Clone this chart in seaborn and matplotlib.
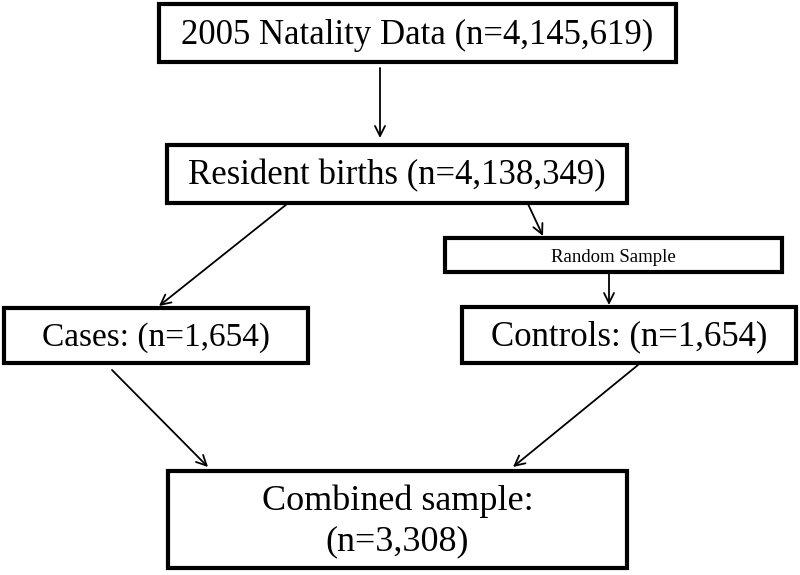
import matplotlib.pyplot as plt
import matplotlib.patches as mpatches
import seaborn as sns

# --- Flowchart content ---
box_names = ['natality', 'resident', 'random', 'cases', 'controls', 'combined']
box_labels = [
    '2005 Natality Data (n=4,145,619)',
    'Resident births (n=4,138,349)',
    'Random Sample',
    'Cases: (n=1,654)',
    'Controls: (n=1,654)',
    'Combined sample:\n(n=3,308)',
]
edges = [
    ('natality', 'resident'),
    ('resident', 'cases'),
    ('resident', 'random'),
    ('random', 'controls'),
    ('cases', 'combined'),
    ('controls', 'combined'),
]

# --- Layout (pixel space, y downward) ---
box_xy = {
    'natality': (159, 4, 517, 58),
    'resident': (167, 145, 460, 58),
    'random': (445, 238, 337, 34),
    'cases': (4, 308, 304, 55),
    'controls': (462, 307, 334, 56),
    'combined': (168, 471, 459, 97),
}
font_sizes = {'natality': 25, 'resident': 25, 'random': 13.5,
              'cases': 24, 'controls': 25, 'combined': 26}
edge_xy = {
    ('natality', 'resident'): ((380, 68), (380, 138)),
    ('resident', 'cases'): ((287, 204), (159, 306)),
    ('resident', 'random'): ((528, 204), (543, 236)),
    ('random', 'controls'): ((609, 273), (609, 305)),
    ('cases', 'combined'): ((112, 370), (208, 467)),
    ('controls', 'combined'): ((638, 365), (513, 467)),
}


def main():
    sns.set_theme(style='white')
    plt.rcParams['font.family'] = ['Liberation Serif', 'DejaVu Serif']

    fig, ax = plt.subplots(figsize=(8, 5.75), dpi=100)
    fig.subplots_adjust(left=0, right=1, bottom=0, top=1)
    ax.set_xlim(0, 800)
    ax.set_ylim(575, 0)
    ax.axis('off')

    for name, label in zip(box_names, box_labels):
        x, y, w, h = box_xy[name]
        ax.add_patch(mpatches.Rectangle((x, y), w, h, fill=False,
                                        edgecolor='black', linewidth=3))
        ax.text(x + w / 2, y + h / 2 + 2, label, ha='center', va='center',
                fontsize=font_sizes[name], color='black', linespacing=1.3)

    for src, dst in edges:
        start, end = edge_xy[(src, dst)]
        ax.annotate('', xy=end, xytext=start,
                    arrowprops=dict(arrowstyle='->', color='black', lw=1.3,
                                    mutation_scale=18, shrinkA=0, shrinkB=0))

    fig.savefig('out.png', dpi=100)


if __name__ == '__main__':
    main()
